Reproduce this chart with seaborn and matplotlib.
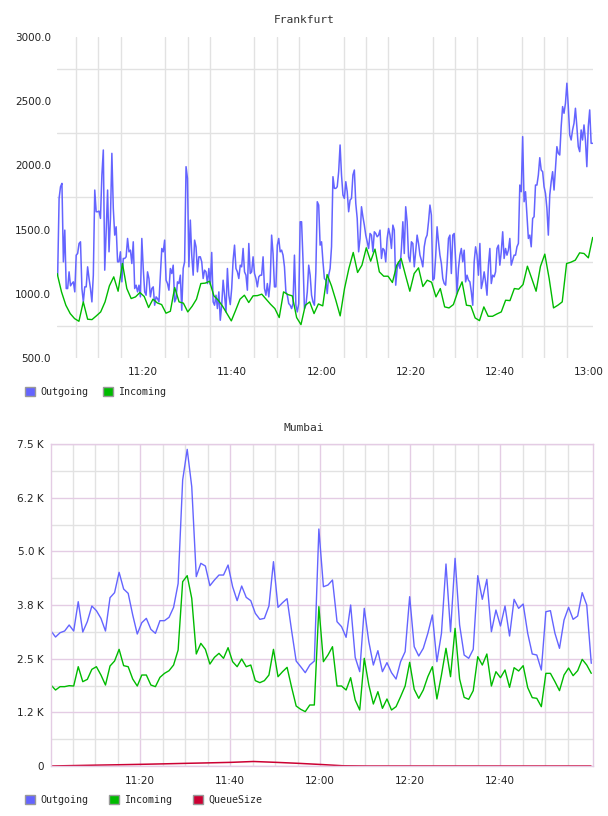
import numpy as np
import pandas as pd
import seaborn as sns
import matplotlib
matplotlib.use('Agg')
import matplotlib.pyplot as plt
import matplotlib.dates as mdates
from matplotlib.patches import Patch
from matplotlib.ticker import FixedLocator

# Frankfurt, outgoing (dense samples) and incoming (one per minute)
FRA_OUT = [
    1145, 1743, 1834, 1860, 1249, 1496, 1041, 1041, 1171, 1062, 1080, 1093, 1015, 1301, 1314, 1392,
    1405, 1041, 937, 1054, 1054, 1210, 1119, 1041, 937, 1145, 1808, 1639, 1639, 1644, 1587, 1925,
    2120, 1184, 1483, 1808, 1327, 1587, 2094, 1665, 1457, 1522, 1249, 1249, 1327, 1093, 1275, 1275,
    1288, 1431, 1327, 1340, 1236, 1405, 1041, 1067, 1015, 1067, 976, 1431, 1197, 1015, 989, 1171,
    1119, 976, 1041, 1054, 911, 976, 963, 937, 1145, 1353, 1327, 1418, 1106, 1080, 1028, 1197,
    1158, 1223, 937, 963, 1093, 1080, 1145, 872, 1197, 1249, 1990,
    1899, 1210, 1574, 1301, 1145, 1418, 1366, 1171, 1288, 1288, 1249, 1119, 1184, 1171, 1080, 1197,
    1072, 1322, 937, 911, 989, 885, 1015, 794, 911, 1106, 989, 859, 1197, 989, 916, 1041,
    1262, 1379, 1197, 1171, 1119, 1223, 1210, 1353, 1171, 1145, 1028, 1392, 1158, 1171, 1288, 1158,
    1119, 1054, 1132, 1145, 1145, 1288, 1041, 989, 1080, 976, 1093, 1457, 1314, 1054, 1054, 1379,
    1431, 1327, 1340, 1301, 1210, 1015, 989, 924, 911, 885, 924, 1301, 911, 859, 924, 1561,
    1561, 1262, 885, 911, 1015, 1223, 1145, 989, 937, 911, 1171, 1717, 1691,
    1379, 1405, 1249, 1119, 1106, 1002, 1145, 1197, 1366, 1912, 1821, 1821, 1834, 1951, 2159, 1925,
    1769, 1743, 1873, 1795, 1639, 1730, 1743, 1925, 1964, 1704, 1587, 1327, 1431, 1678, 1600, 1535,
    1457, 1405, 1353, 1470, 1457, 1327, 1483, 1470, 1444, 1457, 1496, 1275, 1353, 1340, 1249, 1431,
    1509, 1457, 1353, 1535, 1496, 1067, 1197, 1249, 1197, 1353, 1561, 1314, 1678, 1561, 1288, 1249,
    1405, 1392, 1210, 1327, 1457, 1392, 1301, 1262, 1210, 1366, 1431, 1457, 1561, 1691, 1613, 1106,
    1119, 1288, 1522, 1405, 1301, 1236, 1119, 1080, 1067, 1223, 1431, 1457, 1158, 1457, 1470,
    1262, 1002, 1197, 1301, 1353, 1249, 1340, 1093, 1145, 1106, 1093, 1015, 911, 1249, 1366, 1301,
    1145, 1392, 1041, 1093, 1171, 1093, 989, 1223, 1353, 1080, 1145, 1132, 1171, 1353, 1379, 1223,
    1327, 1483, 1275, 1353, 1301, 1340, 1431, 1223, 1262, 1301, 1301, 1366, 1392, 1847, 1795, 2224,
    1717, 1795, 1613, 1431, 1457, 1366, 1587, 1600, 1847, 1847, 1925, 2060, 1964, 1951, 1834, 1782,
    1665, 1457, 1769, 1873, 1951, 1808, 1977, 2146, 2094, 2081, 2302, 2458, 2406, 2484, 2640, 2458,
    2237, 2198, 2276, 2328, 2445, 2302, 2146, 2107, 2276, 2198, 2315, 2198, 1990, 2302, 2432, 2172,
    2172,
]
FRA_IN = [
    1158, 1015, 911, 846, 807, 786, 937, 802, 799, 828, 859, 937, 1062, 1132, 1020, 1236,
    1041, 963, 976, 1010, 979, 893, 958, 929, 916, 849, 864, 1049, 937, 927, 859, 903,
    958, 1080,
    1083, 1098, 984, 950, 903, 846, 789, 872, 958, 989, 932, 984, 986, 997, 958, 919,
    885, 815, 1015, 994, 984, 815, 760, 911, 937, 846, 921, 906, 1150, 1062,
    950, 828, 1041, 1197, 1322, 1166, 1223, 1358, 1254, 1348, 1171, 1137, 1137, 1088, 1223, 1275,
    1145, 1020, 1158, 1202, 1057, 1106, 1090, 976, 1041, 898, 890, 916, 1015, 1093,
    911, 906, 812, 791, 898, 825, 825, 843, 859, 950, 947, 1041, 1036, 1072, 1215, 1119,
    1020, 1213, 1309, 1119, 890, 911, 937, 1236, 1246, 1262, 1319, 1314, 1280, 1439,
]

# Mumbai, one sample per minute
MUM_OUT = [
    3144, 3004, 3105, 3144, 3284, 3144, 3827, 3121, 3362, 3726, 3618, 3439, 3144, 3920, 4037, 4511,
    4122, 4021, 3517, 3074, 3338, 3439, 3183, 3090, 3385, 3385, 3463, 3695, 4250, 6661, 7375, 6506,
    4410, 4721, 4658, 4200, 4332, 4448, 4448, 4681, 4177, 3851, 4192, 3928, 3851, 3556, 3416, 3439,
    3726, 4759, 3695, 3804, 3897, 3150, 2445, 2313, 2174, 2352,
    2445, 5520, 4176, 4215, 4332, 3361, 3245, 2997, 3750, 2531, 2197, 3672, 2896, 2352, 2686, 2197,
    2407, 2174, 2026, 2430, 2663, 3943, 2779, 2562, 2741, 3090, 3517, 2430, 3090, 4705, 3128, 4837,
    3284, 2585, 2508, 2717, 4433, 3882, 4348, 3128, 3633, 3261, 3726, 3028, 3882, 3672, 3773, 3090,
    2609, 2585, 2236, 3594, 3618, 3090, 2741, 3400, 3695, 3416, 3493, 4037, 3750, 2391,
]
MUM_IN = [
    1886, 1770, 1848, 1848, 1871, 1863, 2313, 1964, 2018, 2251, 2313, 2119, 1886, 2329, 2445, 2717,
    2337, 2313, 2026, 1863, 2119, 2119, 1886, 1848, 2065, 2158, 2220, 2352, 2702, 4293, 4433, 3905,
    2609, 2857, 2717, 2375, 2531, 2624, 2508, 2756, 2430, 2313, 2492, 2313, 2352, 1988, 1941, 1988,
    2119, 2717, 2080, 2197, 2298, 1832, 1397, 1320, 1266, 1421,
    1421, 3711, 2430, 2585, 2779, 1863, 1863, 1770, 2057, 1537, 1304, 2508, 1886, 1444, 1731, 1343,
    1561, 1304, 1382, 1615, 1863, 2414, 1786, 1576, 1770, 2080, 2313, 1561, 2119, 2741, 2080, 3206,
    2026, 1599, 1553, 1755, 2546, 2352, 2609, 1863, 2197, 2057, 2236, 1832, 2290, 2213, 2337, 1825,
    1592, 1576, 1382, 2158, 2158, 1964, 1755, 2119, 2282, 2104, 2220, 2484, 2352, 2158,
]
# queue size, one sample per 5 minutes
MUM_QUEUE = [0, 10, 20, 29, 39, 50, 62, 73, 85, 105, 85, 62, 35, 5, 0, 0, 0, 0, 0, 0, 0, 0, 0, 0, 0]

FRA_Y_TICKS = [500, 1000, 1500, 2000, 2500, 3000]
FRA_Y_LABELS = ["500.0", "1000.0", "1500.0", "2000.0", "2500.0", "3000.0"]
MUM_Y_TICKS = [0, 1250, 2500, 3750, 5000, 6250, 7500]
MUM_Y_LABELS = ["0", "1.2 K", "2.5 K", "3.8 K", "5.0 K", "6.2 K", "7.5 K"]
SERIES = ["Outgoing", "Incoming", "QueueSize"]

DAY = "2014-01-01 "
BLUE = "#6464ff"
GREEN = "#00bb00"
RED = "#cc0033"
GRID = "#e2e2e2"
MAJOR = "#e4cce4"
TEXT = "#333333"

sns.set_style("white")
plt.rcParams['font.family'] = ['DejaVu Sans']

fra_out_t = pd.date_range(DAY + "11:00:52", DAY + "13:00:48", periods=len(FRA_OUT))
fra_in_t = pd.date_range(DAY + "11:00:45", DAY + "13:00:50", periods=len(FRA_IN))
mum_t = pd.date_range(DAY + "11:00:13", DAY + "13:00:17", periods=len(MUM_OUT))
queue_t = pd.date_range(DAY + "11:00:13", periods=len(MUM_QUEUE), freq="5min")

fig = plt.figure(figsize=(6.08, 8.16), dpi=100)
ax1 = fig.add_axes([57 / 608, 1 - 358 / 816, 536 / 608, 321 / 816])
ax2 = fig.add_axes([51 / 608, 1 - 766 / 816, 542 / 608, 322 / 816])

# ---- Frankfurt
sns.lineplot(x=fra_out_t, y=FRA_OUT, ax=ax1, color=BLUE, linewidth=1.1, estimator=None)
sns.lineplot(x=fra_in_t, y=FRA_IN, ax=ax1, color=GREEN, linewidth=1.0, estimator=None)
ax1.set_xlim(pd.Timestamp(DAY + "11:00:43"), pd.Timestamp(DAY + "13:00:54"))
ax1.set_ylim(500, 3000)

five = pd.date_range(DAY + "11:05", DAY + "13:00", freq="5min")
ax1.xaxis.set_major_locator(FixedLocator(mdates.date2num(pd.date_range(DAY + "11:20", DAY + "13:00", freq="20min"))))
ax1.xaxis.set_minor_locator(FixedLocator(mdates.date2num(five)))
ax1.xaxis.set_major_formatter(mdates.DateFormatter("%H:%M"))
ax1.yaxis.set_major_locator(FixedLocator(FRA_Y_TICKS))
ax1.set_yticklabels(FRA_Y_LABELS)
ax1.yaxis.set_minor_locator(FixedLocator([750, 1250, 1750, 2250, 2750]))
ax1.grid(False, which="major")
ax1.grid(True, which="minor", color=GRID, linewidth=1.0)
for s in ax1.spines.values():
    s.set_visible(False)
ax1.tick_params(axis="both", which="both", length=0, labelsize=7.5, colors="#222222")
ax1.tick_params(axis="x", pad=6.5)
ax1.tick_params(axis="y", pad=4.3)
ax1.set_xlabel("")
ax1.set_ylabel("")
ax1.set_axisbelow(True)

# ---- Mumbai
sns.lineplot(x=mum_t, y=MUM_OUT, ax=ax2, color=BLUE, linewidth=1.0, estimator=None)
sns.lineplot(x=mum_t, y=MUM_IN, ax=ax2, color=GREEN, linewidth=1.0, estimator=None)
sns.lineplot(x=queue_t, y=MUM_QUEUE, ax=ax2, color=RED, linewidth=1.1, estimator=None)
ax2.set_xlim(pd.Timestamp(DAY + "11:00:13"), pd.Timestamp(DAY + "13:00:40"))
ax2.set_ylim(0, 7500)

majors2 = pd.date_range(DAY + "11:20", DAY + "12:40", freq="20min")
minors2 = [t for t in pd.date_range(DAY + "11:05", DAY + "12:55", freq="5min") if t.minute % 20 != 0]
ax2.xaxis.set_major_locator(FixedLocator(mdates.date2num(majors2)))
ax2.xaxis.set_minor_locator(FixedLocator(mdates.date2num(minors2)))
ax2.xaxis.set_major_formatter(mdates.DateFormatter("%H:%M"))
ax2.yaxis.set_major_locator(FixedLocator(MUM_Y_TICKS))
ax2.set_yticklabels(MUM_Y_LABELS)
ax2.yaxis.set_minor_locator(FixedLocator([625, 1875, 3125, 4375, 5625, 6875]))
ax2.grid(True, which="minor", color=GRID, linewidth=1.0)
ax2.grid(True, which="major", color=MAJOR, linewidth=1.0)
for s in ax2.spines.values():
    s.set_color(MAJOR)
    s.set_linewidth(1.0)
ax2.tick_params(axis="both", which="both", length=0, labelsize=7.5, colors="#222222")
ax2.tick_params(axis="x", pad=7.2)
ax2.tick_params(axis="y", pad=5)
ax2.set_xlabel("")
ax2.set_ylabel("")
ax2.set_axisbelow(True)

# titles
fig.text(0.5, 1 - 20 / 816, "Frankfurt", ha="center", va="center", fontsize=8.1,
         family="DejaVu Sans Mono", color=TEXT)
fig.text(0.5, 1 - 428 / 816, "Mumbai", ha="center", va="center", fontsize=8.1,
         family="DejaVu Sans Mono", color=TEXT)

# legends
def swatches(colors, labels):
    return [Patch(facecolor=c, edgecolor="#999999", linewidth=1.0, label=l) for c, l in zip(colors, labels)]

leg_kw = dict(loc="center left", ncol=3, frameon=False, borderaxespad=0, borderpad=0,
              handlelength=1.0, handleheight=1.0, handletextpad=0.5,
              prop={"family": "DejaVu Sans Mono", "size": 7.2})
fig.legend(handles=swatches([BLUE, GREEN], SERIES[:2]), bbox_to_anchor=(25 / 608, 1 - 392 / 816),
           columnspacing=1.47, **leg_kw)
fig.legend(handles=swatches([BLUE, GREEN, RED], SERIES), bbox_to_anchor=(25 / 608, 1 - 800 / 816),
           columnspacing=2.1, **leg_kw)

fig.savefig("out.png", dpi=100)
